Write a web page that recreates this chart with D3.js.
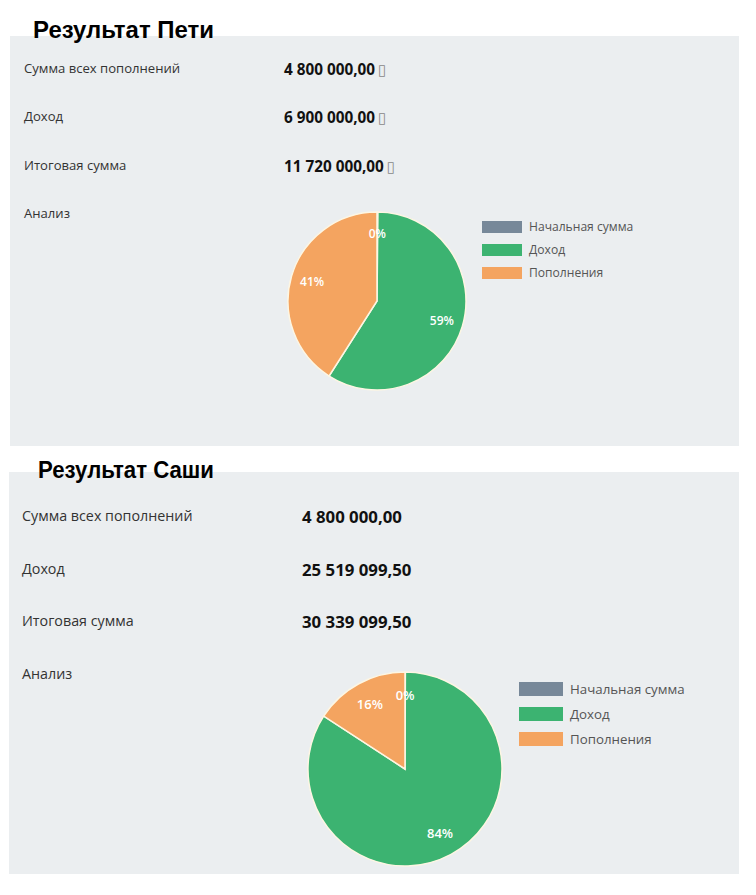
<!DOCTYPE html>
<html><head><meta charset="utf-8">
<script src="https://cdn.jsdelivr.net/npm/d3@7"></script>
<style>html,body{margin:0;padding:0;background:#fff;}svg{display:block;}</style>
</head><body>
<script>
const categories = ["Начальная сумма", "Доход", "Пополнения"];
const colors = ["#778899", "#3cb371", "#f4a460"];
const petyaValues = [20000, 6900000, 4800000];
const sashaValues = [20000, 25519099.5, 4800000];
const rowLabels = ["Сумма всех пополнений", "Доход", "Итоговая сумма", "Анализ"];
const titles = ["Результат Пети", "Результат Саши"];

const W = 756, H = 895;
const svg = d3.select("body").append("svg").attr("width", W).attr("height", H);
const loc = d3.formatLocale({decimal: ",", thousands: "\u00a0", grouping: [3], currency: ["", ""]});
const fmt = loc.format(",.2f");
const pct = d3.format(".0%");

const panels = [
  {values: petyaValues, title: titles[0], box: [10, 36, 729, 410], titleX: 33, titleY: 38, titleSize: 23, titleLen: 181,
   titleFont: "'Liberation Sans', Arial, sans-serif",
   labelX: 24, valueX: 284, rowYs: [73, 121, 170, 218], labelSize: 13.1, valueSize: 15.3, currency: true,
   cx: 377, cy: 301, r: 89, labelSize2: 12, legX: 482, legY: 221, swW: 40, swH: 12, legStep: 23, legText: 12.1},
  {values: sashaValues, title: titles[1], box: [9, 472, 730, 402], titleX: 38, titleY: 478, titleSize: 23, titleLen: 176,
   titleFont: "'Liberation Sans', Arial, sans-serif",
   labelX: 22, valueX: 302, rowYs: [521, 574, 626, 679], labelSize: 14.3, valueSize: 16.8, currency: false,
   cx: 405, cy: 769, r: 97, labelSize2: 13, legX: 519, legY: 682, swW: 44, swH: 14, legStep: 25, legText: 13.3}
];

const pie = d3.pie().sort(null).value(d => d);

panels.forEach(p => {
  const g = svg.append("g");
  g.append("rect").attr("x", p.box[0]).attr("y", p.box[1]).attr("width", p.box[2]).attr("height", p.box[3]).attr("fill", "#ebeef0");
  g.append("text").attr("x", p.titleX).attr("y", p.titleY).attr("font-family", p.titleFont)
    .attr("font-weight", "bold").attr("font-size", p.titleSize).attr("fill", "#000")
    .attr("textLength", p.titleLen).attr("lengthAdjust", "spacingAndGlyphs").text(p.title);

  const total = d3.sum(p.values);
  const rowValues = [p.values[2], p.values[1], total];
  rowLabels.forEach((lbl, i) => {
    g.append("text").attr("x", p.labelX).attr("y", p.rowYs[i]).attr("font-family", "'Open Sans', 'Noto Sans', sans-serif")
      .attr("font-size", p.labelSize).attr("fill", "#333").text(lbl);
    if (i < 3) {
      const t = g.append("text").attr("x", p.valueX).attr("y", p.rowYs[i] + 2).attr("font-family", "'Open Sans', 'Noto Sans', sans-serif")
        .attr("font-weight", "bold").attr("font-size", p.valueSize).attr("fill", "#111").text(fmt(rowValues[i]));
      if (p.currency) {
        t.append("tspan").attr("font-weight", "normal").attr("fill", "#888").attr("font-family", "'DejaVu Sans', sans-serif")
          .attr("font-size", 15).attr("dx", 3).text("\u25AF");
      }
    }
  });

  const arcs = pie(p.values);
  const arc = d3.arc().innerRadius(0).outerRadius(p.r);
  const labelArc = d3.arc().innerRadius(p.r * 0.76).outerRadius(p.r * 0.76);
  const pg = g.append("g").attr("transform", `translate(${p.cx},${p.cy})`);
  pg.selectAll("path").data(arcs).join("path").attr("d", arc)
    .attr("fill", (d, i) => colors[i]).attr("stroke", "#fdf6e3").attr("stroke-width", 1.5);
  pg.selectAll("text").data(arcs).join("text")
    .attr("transform", d => `translate(${labelArc.centroid(d)})`)
    .attr("text-anchor", "middle").attr("dy", "0.35em")
    .attr("font-family", "'Open Sans', 'Noto Sans', sans-serif").attr("font-size", p.labelSize2).attr("font-weight", 600)
    .attr("fill", "#fff").text(d => pct(d.value / total));

  const lg = g.append("g");
  categories.forEach((c, i) => {
    lg.append("rect").attr("x", p.legX).attr("y", p.legY + i * p.legStep).attr("width", p.swW).attr("height", p.swH).attr("fill", colors[i]);
    lg.append("text").attr("x", p.legX + p.swW + 7).attr("y", p.legY + i * p.legStep + p.swH / 2).attr("dy", "0.35em")
      .attr("font-family", "'Open Sans', 'Noto Sans', sans-serif").attr("font-size", p.legText).attr("fill", "#555").text(c);
  });
});
</script>
</body></html>
